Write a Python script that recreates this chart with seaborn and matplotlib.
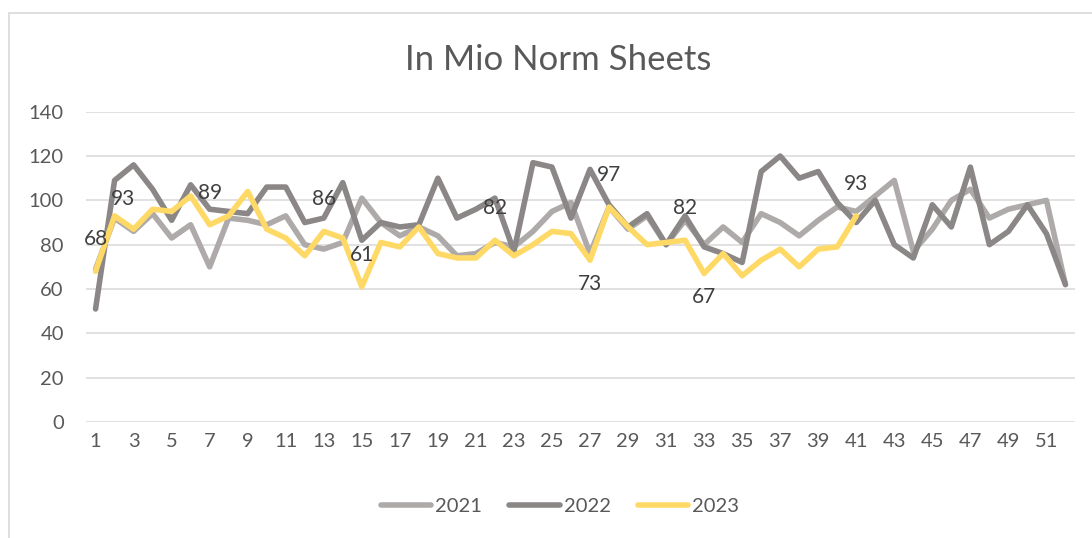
import numpy as np
import pandas as pd
import matplotlib
matplotlib.use("Agg")
import matplotlib.pyplot as plt
import seaborn as sns
from matplotlib.lines import Line2D

# Weekly values
weeks = list(range(1, 53))
y2021 = [69, 92, 86, 94, 83, 89, 70, 92, 91, 89, 93, 80, 78, 81, 101, 90, 84, 88,
         84, 75, 76, 81, 79, 86, 95, 99, 76, 97, 87, 93, 80, 91, 80, 88, 81, 94,
         90, 84, 91, 97, 95, 102, 109, 77, 87, 100, 105, 92, 96, 98, 100, 62]
y2022 = [51, 109, 116, 105, 91, 107, 96, 95, 94, 106, 106, 90, 92, 108, 82, 90, 88,
         89, 110, 92, 96, 101, 77, 117, 115, 92, 114, 98, 88, 94, 80, 93, 79, 76,
         72, 113, 120, 110, 113, 99, 90, 100, 80, 74, 98, 88, 115, 80, 86, 98, 85, 62]
y2023 = [68, 93, 87, 96, 95, 102, 89, 93, 104, 87, 83, 75, 86, 83, 61, 81, 79, 88,
         76, 74, 74, 82, 75, 80, 86, 85, 73, 97, 88, 80, 81, 82, 67, 76, 66, 73,
         78, 70, 78, 79, 93]
years = ["2021", "2022", "2023"]
label_weeks = [1, 2, 7, 13, 15, 22, 27, 28, 32, 33, 41]
below_weeks = [27, 33]

colors = {"2021": "#AEAAA9", "2022": "#8B8786", "2023": "#FFD966"}
text_col = "#595959"

frames = []
for yr, vals in zip(years, [y2021, y2022, y2023]):
    frames.append(pd.DataFrame({"week": weeks[:len(vals)], "value": vals, "year": yr}))
df = pd.concat(frames, ignore_index=True)

sns.set_theme(style="white")
plt.rcParams["font.family"] = ["Lato", "DejaVu Sans"]

fig = plt.figure(figsize=(10.92, 5.38), dpi=100)
ax = fig.add_axes([0.0788, 0.2156, 0.9056, 0.5768])

sns.lineplot(data=df, x="week", y="value", hue="year", palette=colors,
             linewidth=4, ax=ax, legend=False, sort=False,
             solid_capstyle="round", solid_joinstyle="round")

# data labels on the 2023 series
for w in label_weeks:
    v = y2023[w - 1]
    dx, dy = 0, 23
    if w in below_weeks:
        dy = -17
    if w == 2:
        dx, dy = 6, 12
    ax.annotate(str(v), (w, v), xytext=(dx, dy), textcoords="offset points",
                ha="center", va="center", fontsize=15, color="#404040")

ax.set_xlim(0.5, 52.5)
ax.set_ylim(0, 140)
ax.set_yticks(range(0, 141, 20))
ax.set_xticks(range(1, 52, 2))
ax.grid(axis="y", color="#D9D9D9", linewidth=1.1)
ax.grid(axis="x", visible=False)
for s in ax.spines.values():
    s.set_visible(False)
ax.tick_params(axis="both", length=0, labelsize=14.5, labelcolor=text_col)
ax.tick_params(axis="y", pad=16)
ax.tick_params(axis="x", pad=8)
ax.set_xlabel("")
ax.set_ylabel("")

fig.text(0.511, 0.888, "In Mio Norm Sheets", ha="center", va="center",
         fontsize=25, color=text_col)

handles = [Line2D([0], [0], color=colors[y], lw=4, solid_capstyle="round") for y in years]
fig.legend(handles, years, loc="center", bbox_to_anchor=(0.513, 0.058), ncol=3,
           frameon=False, fontsize=14.5, labelcolor=text_col, handlelength=2.5,
           handletextpad=0.2, columnspacing=1.35)

# chart border (top and left visible in the crop)
fig.add_artist(Line2D([9 / 1092, 9 / 1092], [0, 1 - 13 / 538], transform=fig.transFigure,
                      color="#D9D9D9", lw=1.2))
fig.add_artist(Line2D([9 / 1092, 1], [1 - 13 / 538, 1 - 13 / 538], transform=fig.transFigure,
                      color="#D9D9D9", lw=1.2))

fig.savefig("out.png", dpi=100)
